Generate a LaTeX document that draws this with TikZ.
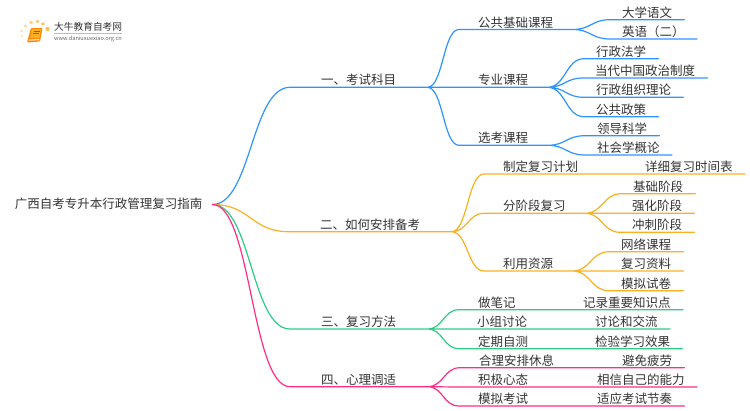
\documentclass[tikz,border=0pt]{standalone}
\usepackage{fontspec}
\usetikzlibrary{calc}
\setmainfont{Noto Sans CJK SC}
\definecolor{bluec}{HTML}{2F93FF}
\definecolor{orangec}{HTML}{FBB022}
\definecolor{greenc}{HTML}{2DCC85}
\definecolor{pinkc}{HTML}{FF2D84}
\definecolor{textc}{HTML}{333333}
\begin{document}
\begin{tikzpicture}[x=1pt,y=-1pt,
    item/.style = {inner ysep=0pt, text height=10pt, text depth=2.3pt, anchor=south west, text=textc, font=\fontsize{12.5pt}{14pt}\selectfont},
    lvone/.style = {item, inner xsep=31pt},
    lvtwo/.style = {item, inner xsep=19pt},
    leaf/.style = {item, inner xsep=12pt},
    link/.style = {to path={.. controls ($(\tikztostart)!0.5!(\tikztotarget|-\tikztostart)$) and ($(\tikztotarget)!0.5!(\tikztostart|-\tikztotarget)$) .. (\tikztotarget)}},
    wire/.style = {line width=1.2pt, line cap=round}]
      \useasboundingbox (0,0) rectangle (750,410);

      \node[item, anchor=east, inner xsep=10pt] (root) at (212.5,204.5) {广西自考专升本行政管理复习指南};

      \node[lvone] (exam) at (290,87.3) {一、考试科目};
      \node[lvone] (plan) at (289,231.7) {二、如何安排备考};
      \node[lvone] (method) at (290,329) {三、复习方法};
      \node[lvone] (mind) at (290,386.7) {四、心理调适};

      \node[lvtwo] (pub) at (459,29.5) {公共基础课程};
      \node[lvtwo] (major) at (459,87.3) {专业课程};
      \node[lvtwo] (elect) at (459,145.3) {选考课程};
      \node[lvtwo] (draft) at (484,174) {制定复习计划};
      \node[lvtwo] (stage) at (484,213.3) {分阶段复习};
      \node[lvtwo] (res) at (484,271) {利用资源};
      \node[lvtwo] (note) at (459,309.7) {做笔记};
      \node[lvtwo] (group) at (458,329) {小组讨论};
      \node[lvtwo] (test) at (459,348.7) {定期自测};
      \node[lvtwo] (rest) at (460,367.7) {合理安排休息};
      \node[lvtwo] (posi) at (459,387) {积极心态};
      \node[lvtwo] (mock) at (459,406) {模拟考试};

      \node[leaf] (yuwen) at (610,19.7) {大学语文};
      \node[leaf] (yingyu) at (610,39) {英语（二）};
      \node[leaf] (law) at (584,58.7) {行政法学};
      \node[leaf] (zhengzhi) at (583,78) {当代中国政治制度};
      \node[leaf] (zuzhi) at (584,97.3) {行政组织理论};
      \node[leaf] (policy) at (584,116.7) {公共政策};
      \node[leaf] (lead) at (585,135.7) {领导科学};
      \node[leaf] (soc) at (585,155) {社会学概论};
      \node[leaf] (timetable) at (633,174) {详细复习时间表};
      \node[leaf] (basic) at (621,193.7) {基础阶段};
      \node[leaf] (strong) at (620,213.3) {强化阶段};
      \node[leaf] (sprint) at (620,232.3) {冲刺阶段};
      \node[leaf] (online) at (609,251.7) {网络课程};
      \node[leaf] (data) at (609,271) {复习资料};
      \node[leaf] (paper) at (609,290.7) {模拟试卷};
      \node[leaf] (point) at (571,309.7) {记录重要知识点};
      \node[leaf] (talk) at (583,329) {讨论和交流};
      \node[leaf] (effect) at (583,348.7) {检验学习效果};
      \node[leaf] (tired) at (610,367.7) {避免疲劳};
      \node[leaf] (self) at (585,387) {相信自己的能力};
      \node[leaf] (pace) at (585,406) {适应考试节奏};

      \draw[wire, bluec] (root.east) to[link] (exam.south west) -- (exam.south east)
      (exam.south east) to[link] (pub.south west) -- (pub.south east)
      (exam.south east) -- (major.south west) -- (major.south east)
      (exam.south east) to[link] (elect.south west) -- (elect.south east)
      (pub.south east) to[link] (yuwen.south west) -- (yuwen.south east)
      (pub.south east) to[link] (yingyu.south west) -- (yingyu.south east)
      (major.south east) to[link] (law.south west) -- (law.south east)
      (major.south east) to[link] (zhengzhi.south west) -- (zhengzhi.south east)
      (major.south east) to[link] (zuzhi.south west) -- (zuzhi.south east)
      (major.south east) to[link] (policy.south west) -- (policy.south east)
      (elect.south east) to[link] (lead.south west) -- (lead.south east)
      (elect.south east) to[link] (soc.south west) -- (soc.south east);

      \draw[wire, orangec] (root.east) to[link] (plan.south west) -- (plan.south east)
      (plan.south east) to[link] (draft.south west) -- (draft.south east)
      (plan.south east) to[link] (stage.south west) -- (stage.south east)
      (plan.south east) to[link] (res.south west) -- (res.south east)
      (draft.south east) -- (timetable.south west) -- (timetable.south east)
      (stage.south east) to[link] (basic.south west) -- (basic.south east)
      (stage.south east) -- (strong.south west) -- (strong.south east)
      (stage.south east) to[link] (sprint.south west) -- (sprint.south east)
      (res.south east) to[link] (online.south west) -- (online.south east)
      (res.south east) -- (data.south west) -- (data.south east)
      (res.south east) to[link] (paper.south west) -- (paper.south east);

      \draw[wire, greenc] (root.east) to[link] (method.south west) -- (method.south east)
      (method.south east) to[link] (note.south west) -- (note.south east)
      (method.south east) -- (group.south west) -- (group.south east)
      (method.south east) to[link] (test.south west) -- (test.south east)
      (note.south east) -- (point.south west) -- (point.south east)
      (group.south east) -- (talk.south west) -- (talk.south east)
      (test.south east) -- (effect.south west) -- (effect.south east);

      \draw[wire, pinkc] (root.east) to[link] (mind.south west) -- (mind.south east)
      (mind.south east) to[link] (rest.south west) -- (rest.south east)
      (mind.south east) -- (posi.south west) -- (posi.south east)
      (mind.south east) to[link] (mock.south west) -- (mock.south east)
      (rest.south east) -- (tired.south west) -- (tired.south east)
      (posi.south east) -- (self.south west) -- (self.south east)
      (mock.south east) -- (pace.south west) -- (pace.south east);

      % logo
      \foreach \x/\y/\r/\t in {23/43/0.9/25, 22/36/1.2/35, 21.5/31/1.3/40, 25.5/26/1.6/50, 31/22.5/1.8/60, 37.5/21.5/1.9/70, 43/24/1.9/80, 47.5/29/2.2/80}
        \fill[orangec!\t!white] (\x,\y) circle (\r);
      \fill[orange!95!yellow, rounded corners=1pt] (31,28) -- (42.5,28) -- (40,41.5) -- (27,42.5) -- cycle;
      \fill[orangec] (32,29) -- (41,29) -- (39.5,38) -- (30,38) -- cycle;
      \fill[orange!25!white] (29,39.5) -- (39.5,39) -- (39.3,40.3) -- (28.7,40.8) -- cycle;
      \draw[orange!70!black, line width=0.5pt] (33.5,31) -- (39.5,31) (33,33) -- (39,33);
      \node[inner sep=0pt, anchor=west, text=textc, font=\fontsize{9.7pt}{11pt}\selectfont] (brand) at (54,27) {大牛教育自考网};
      \draw[black!25, line width=0.6pt] (54,33) -- (122,33);
      \node[inner sep=0pt, anchor=west, text=black!60, font=\fontsize{5.6pt}{7pt}\selectfont] (site) at (54,38.5) {www.daniuxuexiao.org.cn};

    \end{tikzpicture}
\end{document}
